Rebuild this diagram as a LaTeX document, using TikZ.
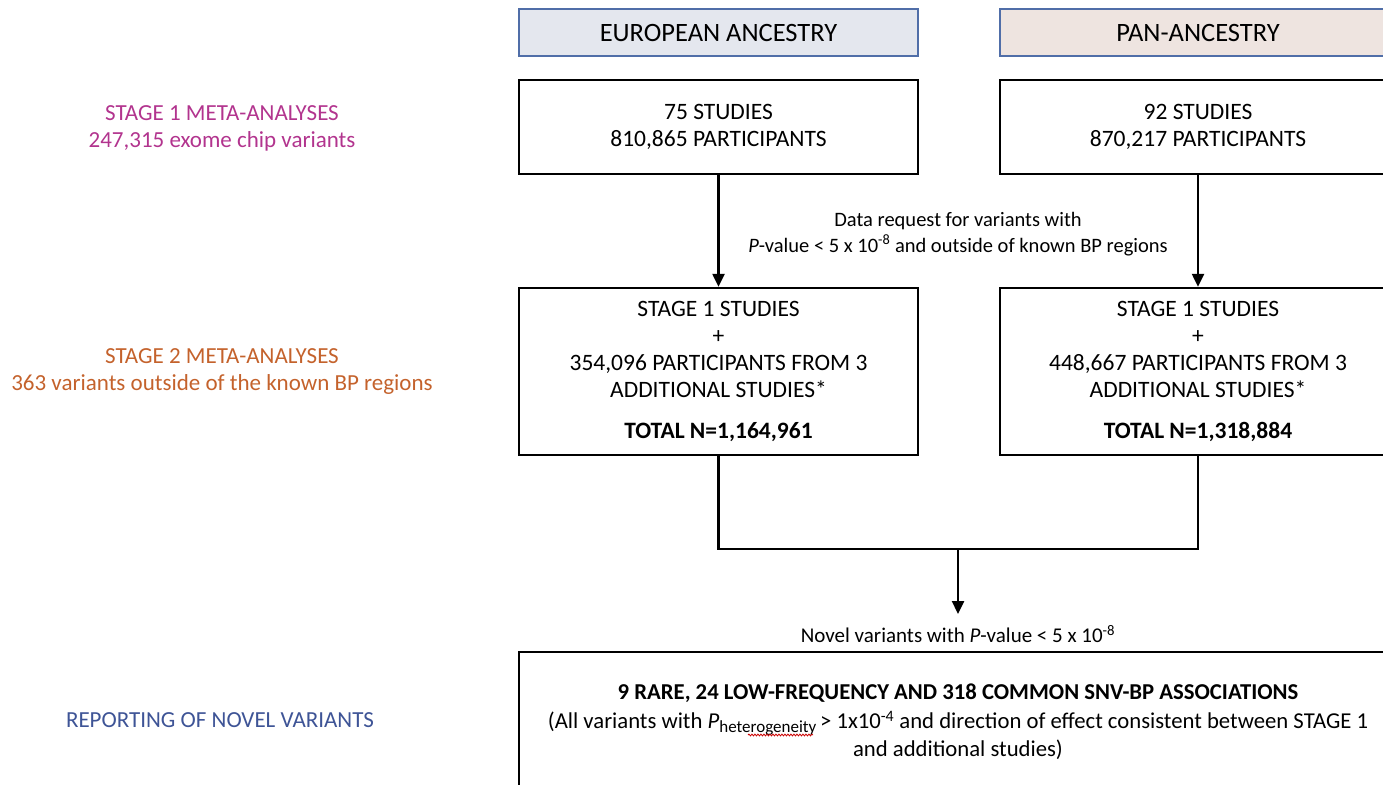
\documentclass[tikz,border=0pt]{standalone}
\usepackage{fontspec}
\setmainfont{Carlito}
\usetikzlibrary{arrows.meta,decorations.pathmorphing}
\definecolor{magS}{RGB}{178,52,142}
\definecolor{oraS}{RGB}{196,98,44}
\definecolor{bluS}{RGB}{62,84,150}
\definecolor{hdrB}{RGB}{80,110,168}
\definecolor{euF}{RGB}{228,231,238}
\definecolor{panF}{RGB}{238,228,224}
\begin{document}
\begin{tikzpicture}[x=1pt,y=-1pt,
  txt/.style={align=center, inner sep=0pt},
  hdr/.style={draw=hdrB, line width=2.4pt, minimum height=47pt, inner sep=0pt, font=\fontsize{26.5}{30}\selectfont},
  box/.style={draw=black, line width=2.4pt, inner sep=0pt, font=\fontsize{23.5}{27}\selectfont, align=center},
  lab/.style={font=\fontsize{23}{27}\selectfont, align=center, inner sep=0pt},
  conn/.style={line width=2.4pt},
  arr/.style={line width=2.4pt, -{Triangle[width=12pt,length=13pt]}}]
\useasboundingbox (0,0) rectangle (1383,784);
\clip (0,0) rectangle (1383,784);
% headers
\node[hdr, fill=euF, minimum width=399pt] (eu) at (718.5,32.5) {EUROPEAN ANCESTRY};
\node[hdr, fill=panF, minimum width=396pt] (pan) at (1198,32.5) {PAN-ANCESTRY};
% stage 1
\node[box, minimum width=399pt, minimum height=94pt] (s1eu) at (718.5,127) {75 STUDIES\\810,865 PARTICIPANTS};
\node[box, minimum width=396pt, minimum height=94pt] (s1pan) at (1198,127) {92 STUDIES\\870,217 PARTICIPANTS};
% stage 2
\node[box, minimum width=399pt, minimum height=167pt] (s2eu) at (718.5,371.5) {STAGE 1 STUDIES\\+\\354,096 PARTICIPANTS FROM 3\\ADDITIONAL STUDIES*\\[14pt]\textbf{TOTAL N=1,164,961}};
\node[box, minimum width=396pt, minimum height=167pt] (s2pan) at (1198,371.5) {STAGE 1 STUDIES\\+\\448,667 PARTICIPANTS FROM 3\\ADDITIONAL STUDIES*\\[14pt]\textbf{TOTAL N=1,318,884}};
% data request text
\node[txt, font=\fontsize{20.5}{26}\selectfont] (req) at (958,234) {Data request for variants with\\\textit{P}-value < 5 x 10\textsuperscript{-8} and outside of known BP regions};
% arrows stage1 -> stage2
\draw[arr] (s1eu.south) -- (s2eu.north);
\draw[arr] (s1pan.south) -- (s2pan.north);
% merge
\coordinate (j) at (958,549);
\node[txt, font=\fontsize{21}{26}\selectfont] (nov) at (958,634) {Novel variants with \textit{P}-value < 5 x 10\textsuperscript{-8}};
\draw[conn] (s2eu.south) |- (j) -| (s2pan.south);
\draw[arr] (j) -- (958,614);
% reporting box
\node[box, minimum width=878pt, minimum height=138pt] (rep) at (958,721) {};
\node[txt, font=\fontsize{22.7}{28}\selectfont] (reptxt) at (958,722) {\textbf{9 RARE, 24 LOW-FREQUENCY AND 318 COMMON SNV-BP ASSOCIATIONS}\\[1pt](All variants with \textit{P}\raisebox{-0.3ex}{\fontsize{17}{17}\selectfont heterogeneity}\,> 1x10\textsuperscript{-4} and direction of effect consistent between STAGE 1\\and additional studies)};
\draw[red!80!black, line width=0.8pt, decorate, decoration={snake, amplitude=0.9pt, segment length=3pt}] (748,735) -- (813,735);
% left labels
\node[lab, text=magS] (l1) at (222,128) {STAGE 1 META-ANALYSES\\247,315 exome chip variants};
\node[lab, text=oraS] (l2) at (222,372) {STAGE 2 META-ANALYSES\\363 variants outside of the known BP regions};
\node[lab, text=bluS] (l3) at (220,720) {REPORTING OF NOVEL VARIANTS};
\end{tikzpicture}
\end{document}
